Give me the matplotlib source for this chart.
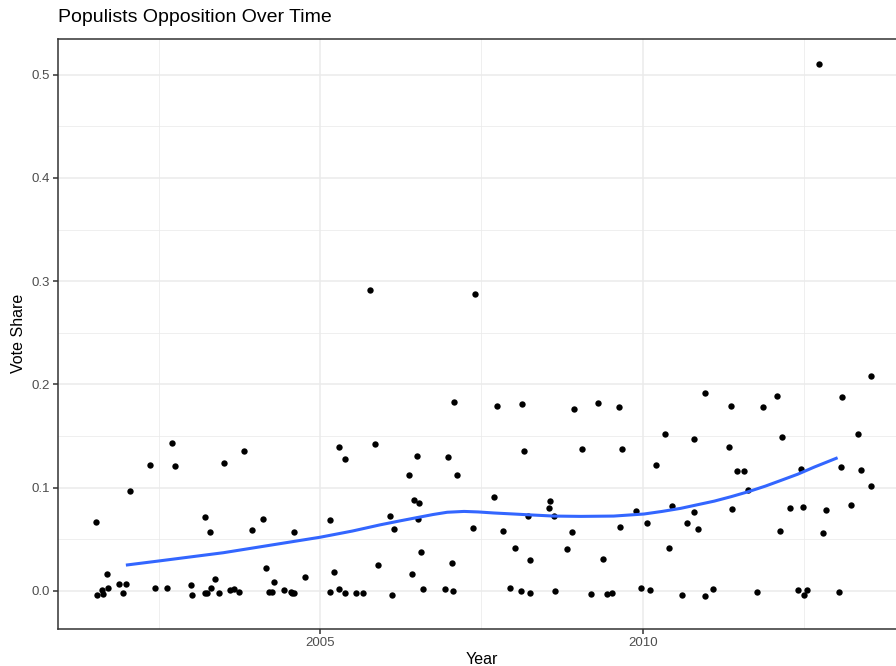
import matplotlib
matplotlib.use("Agg")
import matplotlib.pyplot as plt
from matplotlib.ticker import MultipleLocator

plt.rcParams['font.family'] = ['Liberation Sans', 'DejaVu Sans']

years = [2001.52, 2001.55, 2001.62, 2001.64, 2001.70, 2001.72, 2001.88, 2001.95, 2001.99, 2002.05,
         2002.37, 2002.44, 2002.63, 2002.70, 2002.75, 2003.00, 2003.01, 2003.21, 2003.21, 2003.25,
         2003.30, 2003.31, 2003.37, 2003.44, 2003.51, 2003.60, 2003.66, 2003.75, 2003.82, 2003.95,
         2004.12, 2004.16, 2004.21, 2004.26, 2004.29, 2004.44, 2004.55, 2004.57, 2004.59, 2004.60,
         2004.77, 2005.15, 2005.15, 2005.21, 2005.29, 2005.29, 2005.39, 2005.39, 2005.55, 2005.66,
         2005.77, 2005.85, 2005.89, 2006.09, 2006.11, 2006.15, 2006.37, 2006.43, 2006.45, 2006.50,
         2006.52, 2006.53, 2006.57, 2006.60, 2006.94, 2006.98, 2007.05, 2007.06, 2007.07, 2007.12,
         2007.37, 2007.40, 2007.69, 2007.74, 2007.84, 2007.94, 2008.02, 2008.12, 2008.13, 2008.16,
         2008.22, 2008.25, 2008.26, 2008.55, 2008.56, 2008.63, 2008.64, 2008.82, 2008.90, 2008.94,
         2009.06, 2009.20, 2009.30, 2009.39, 2009.45, 2009.52, 2009.63, 2009.65, 2009.68, 2009.89,
         2009.97, 2010.06, 2010.12, 2010.20, 2010.34, 2010.40, 2010.46, 2010.61, 2010.69, 2010.79,
         2010.80, 2010.86, 2010.96, 2010.96, 2011.09, 2011.33, 2011.37, 2011.38, 2011.46, 2011.57,
         2011.63, 2011.77, 2011.86, 2012.08, 2012.13, 2012.16, 2012.29, 2012.40, 2012.46, 2012.49,
         2012.50, 2012.55, 2012.73, 2012.80, 2012.84, 2013.04, 2013.08, 2013.09, 2013.22, 2013.34,
         2013.39, 2013.53, 2013.53]

vote_share = [0.067, -0.004, 0.001, -0.003, 0.016, 0.003, 0.007, -0.002, 0.007, 0.097,
              0.122, 0.003, 0.003, 0.143, 0.121, 0.006, -0.004, 0.072, -0.002, -0.002,
              0.057, 0.003, 0.012, -0.002, 0.124, 0.001, 0.002, -0.001, 0.136, 0.059,
              0.070, 0.022, -0.001, -0.001, 0.009, 0.001, -0.001, -0.002, 0.057, -0.002,
              0.013, 0.069, -0.001, 0.018, 0.002, 0.139, 0.128, -0.002, -0.002, -0.002,
              0.291, 0.142, 0.025, 0.073, -0.004, 0.060, 0.112, 0.016, 0.088, 0.131,
              0.070, 0.085, 0.038, 0.002, 0.002, 0.130, 0.027, 0.000, 0.183, 0.112,
              0.061, 0.288, 0.091, 0.179, 0.058, 0.003, 0.042, 0.000, 0.181, 0.136,
              0.073, -0.002, 0.030, 0.080, 0.087, 0.073, 0.000, 0.041, 0.057, 0.176,
              0.137, -0.003, 0.182, 0.031, -0.003, -0.002, 0.178, 0.062, 0.137, 0.077,
              0.003, 0.066, 0.001, 0.122, 0.152, 0.042, 0.082, -0.004, 0.066, 0.076,
              0.147, 0.060, 0.192, -0.005, 0.002, 0.139, 0.179, 0.079, 0.116, 0.116,
              0.098, -0.001, 0.178, 0.189, 0.058, 0.149, 0.080, 0.001, 0.118, 0.081,
              -0.004, 0.001, 0.510, 0.056, 0.078, -0.001, 0.120, 0.188, 0.083, 0.152,
              0.117, 0.102, 0.208]

smooth_years = [2001.99, 2002.5, 2003.0, 2003.5, 2004.0, 2004.5, 2005.0, 2005.5, 2005.93, 2006.25,
                2006.5, 2006.75, 2006.97, 2007.23, 2007.45, 2007.69, 2008.0, 2008.3, 2008.62,
                2009.04, 2009.55, 2010.02, 2010.3, 2010.59, 2010.85, 2011.11, 2011.37, 2011.63,
                2011.9, 2012.14, 2012.4, 2012.66, 2013.02]
smooth_values = [0.025, 0.029, 0.033, 0.037, 0.042, 0.047, 0.052, 0.058, 0.064, 0.068,
                 0.071, 0.074, 0.0762, 0.077, 0.0765, 0.0755, 0.0745, 0.0735, 0.0725,
                 0.0722, 0.0725, 0.0745, 0.077, 0.080, 0.0835, 0.087, 0.0913, 0.096,
                 0.1015, 0.107, 0.113, 0.120, 0.129]

x_ticks = [2005, 2010]
y_ticks = [0.0, 0.1, 0.2, 0.3, 0.4, 0.5]

W, H = 896, 666
fig = plt.figure(figsize=(W / 100, H / 100), dpi=100)
ax = fig.add_axes([58 / W, (H - 628.5) / H, (906 - 58) / W, (628.5 - 39) / H])

ax.set_xlim(2000.938, 2014.08)
ax.set_ylim(-0.0364, 0.5346)

ax.set_xticks(x_ticks)
ax.set_yticks(y_ticks)
ax.set_yticklabels([f"{v:.1f}" for v in y_ticks])
ax.xaxis.set_minor_locator(MultipleLocator(2.5))
ax.yaxis.set_minor_locator(MultipleLocator(0.05))

ax.grid(True, which='major', color='#EBEBEB', linewidth=1.1, zorder=0)
ax.grid(True, which='minor', color='#EBEBEB', linewidth=0.55, zorder=0)
ax.set_axisbelow(True)

for s in ax.spines.values():
    s.set_color('#333333')
    s.set_linewidth(1.1)

ax.tick_params(axis='both', which='major', length=3.5, width=1.1, color='#333333',
               labelcolor='#4D4D4D', labelsize=9.5, pad=2.5)
ax.tick_params(axis='both', which='minor', length=0)

ax.scatter(years, vote_share, s=21, color='black', linewidths=0, zorder=3)
ax.plot(smooth_years, smooth_values, color='#3366FF', linewidth=2.2, zorder=4,
        solid_capstyle='butt', solid_joinstyle='round')

ax.set_xlabel('Year', fontsize=11.5, color='black', labelpad=2)
ax.set_ylabel('Vote Share', fontsize=11.5, color='black', labelpad=4)

fig.text(58 / W, 1 - 18 / H, 'Populists Opposition Over Time', fontsize=14,
         color='black', ha='left', va='center')

fig.savefig('out.png', dpi=100)
